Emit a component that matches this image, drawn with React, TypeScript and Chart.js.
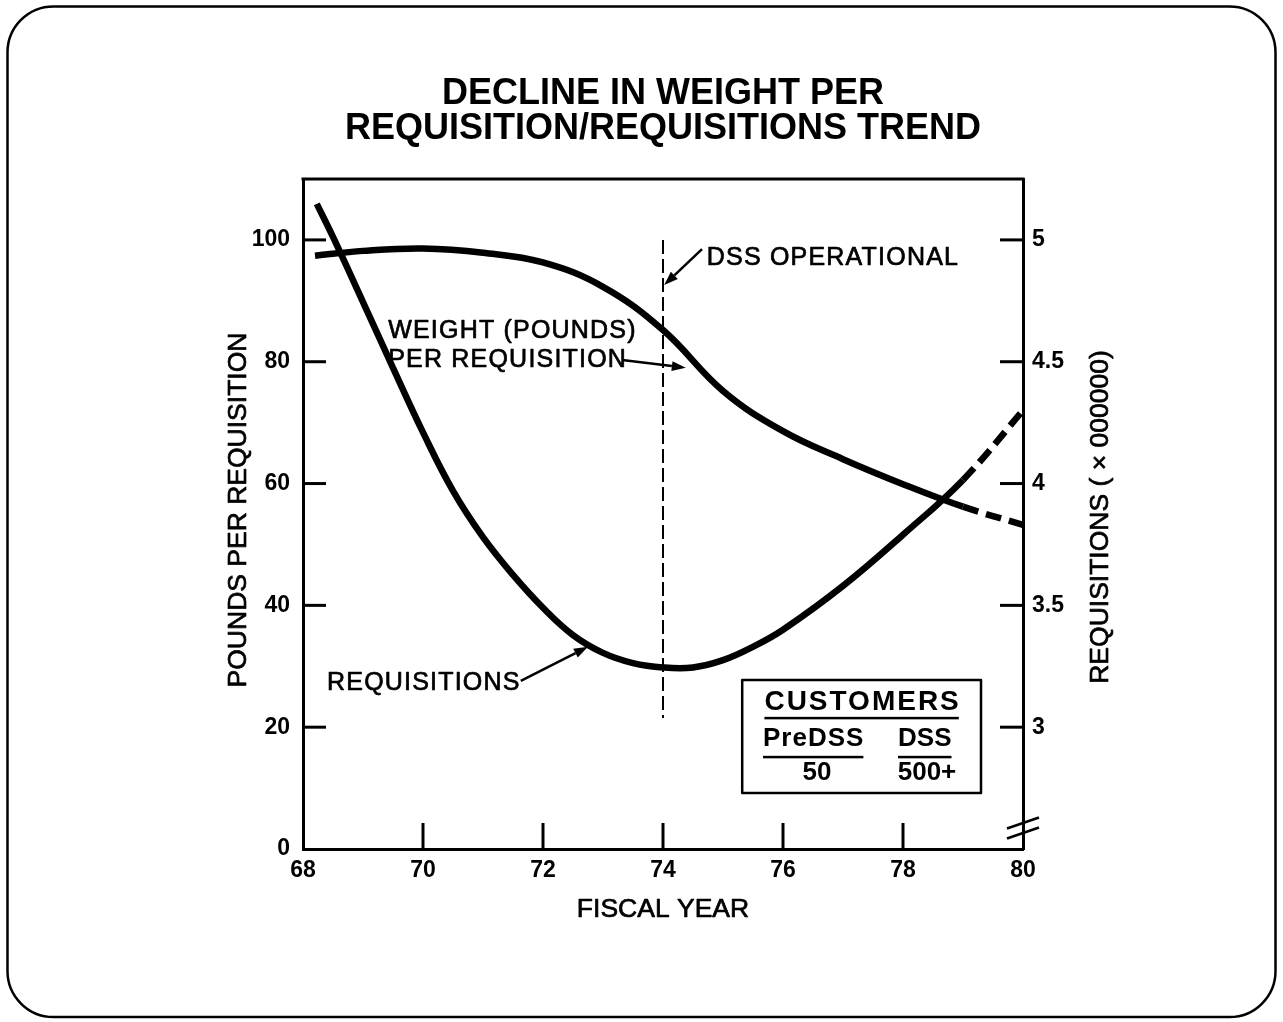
import React, { useEffect, useRef } from 'react';
import { Chart, registerables } from 'chart.js';

Chart.register(...registerables);

// ---- data ----
const weightYears = [68.2, 69, 70, 71, 72, 73, 74, 75, 76, 77, 78, 79, 80];
const weightPounds = [97.4, 98.2, 98.6, 97.9, 96.3, 92.3, 85.2, 75.2, 68.6, 64.0, 59.9, 56.2, 53.2];

const reqYears = [68.23, 68.5, 69, 69.5, 70, 70.5, 71, 71.5, 72, 72.5, 73, 73.5, 74, 74.5, 75, 75.5, 76, 77, 78, 79, 80];
const reqMillions = [5.148, 5.012, 4.745, 4.475, 4.21, 3.97, 3.78, 3.625, 3.49, 3.378, 3.305, 3.263, 3.245, 3.245, 3.275, 3.33, 3.4, 3.58, 3.79, 4.015, 4.3];

const xTickValues = [68, 70, 72, 74, 76, 78, 80];
const leftTickValues = [0, 20, 40, 60, 80, 100];
const rightTickValues = [3, 3.5, 4, 4.5, 5];

const projectionFrom = 79; // dashed (projected) part of both curves
const dssYear = 74;

const titleLines = ['DECLINE IN WEIGHT PER', 'REQUISITION/REQUISITIONS TREND'];
const xTitle = 'FISCAL YEAR';
const leftTitle = 'POUNDS PER REQUISITION';
const rightTitle = 'REQUISITIONS ( × 000000)';
const customersHeader = 'CUSTOMERS';
const customersCols = ['PreDSS', 'DSS'];
const customersVals = ['50', '500+'];

const FONT = '"Liberation Sans", Arial, Helvetica, sans-serif';

function drawText(
  ctx: CanvasRenderingContext2D,
  s: string,
  x: number,
  y: number,
  font: string,
  align: CanvasTextAlign = 'left',
  spacing = 0,
  stroke = 0,
  baseline: CanvasTextBaseline = 'alphabetic'
) {
  ctx.font = font;
  ctx.textAlign = align;
  ctx.textBaseline = baseline;
  (ctx as any).letterSpacing = spacing + 'px';
  ctx.fillText(s, x, y);
  if (stroke > 0) {
    ctx.lineWidth = stroke;
    ctx.lineJoin = 'round';
    ctx.strokeText(s, x, y);
  }
  const w = ctx.measureText(s).width;
  (ctx as any).letterSpacing = '0px';
  return w;
}

function drawArrow(ctx: CanvasRenderingContext2D, x1: number, y1: number, x2: number, y2: number) {
  const ang = Math.atan2(y2 - y1, x2 - x1);
  const hl = 14, hw = 5;
  const bx = x2 - hl * Math.cos(ang), by = y2 - hl * Math.sin(ang);
  ctx.lineWidth = 2.5;
  ctx.setLineDash([]);
  ctx.beginPath();
  ctx.moveTo(x1, y1);
  ctx.lineTo(bx, by);
  ctx.stroke();
  ctx.beginPath();
  ctx.moveTo(x2, y2);
  ctx.lineTo(bx + hw * Math.sin(ang), by - hw * Math.cos(ang));
  ctx.lineTo(bx - hw * Math.sin(ang), by + hw * Math.cos(ang));
  ctx.closePath();
  ctx.fill();
}

const decorPlugin = {
  id: 'decor',
  beforeDraw(chart: any) {
    const ctx = chart.ctx as CanvasRenderingContext2D;
    ctx.save();
    ctx.fillStyle = '#fff';
    ctx.fillRect(0, 0, chart.width, chart.height);
    ctx.restore();
  },
  afterDraw(chart: any) {
    const ctx = chart.ctx as CanvasRenderingContext2D;
    const ca = chart.chartArea;
    const xs = chart.scales.x, yl = chart.scales.y, yr = chart.scales.y2;
    const X = (v: number) => xs.getPixelForValue(v);
    const Y = (v: number) => yl.getPixelForValue(v);
    ctx.save();
    ctx.strokeStyle = '#000';
    ctx.fillStyle = '#000';
    ctx.lineCap = 'butt';

    // outer rounded frame
    ctx.lineWidth = 2.5;
    ctx.beginPath();
    (ctx as any).roundRect(7.5, 6.5, chart.width - 15, chart.height - 11.5, 46);
    ctx.stroke();

    // top border of plot box
    ctx.lineWidth = 3;
    ctx.beginPath();
    ctx.moveTo(ca.left - 1.5, ca.top);
    ctx.lineTo(ca.right + 1.5, ca.top);
    ctx.stroke();

    // inward tick marks
    xs.ticks.forEach((t: any) => {
      if (t.value <= xs.min || t.value >= xs.max) return;
      const px = X(t.value);
      ctx.beginPath();
      ctx.moveTo(px, ca.bottom);
      ctx.lineTo(px, ca.bottom - 26);
      ctx.stroke();
    });
    yl.ticks.forEach((t: any) => {
      if (t.value <= yl.min) return;
      const py = Y(t.value);
      ctx.beginPath();
      ctx.moveTo(ca.left, py);
      ctx.lineTo(ca.left + 23, py);
      ctx.stroke();
    });
    yr.ticks.forEach((t: any) => {
      const py = yr.getPixelForValue(t.value);
      ctx.beginPath();
      ctx.moveTo(ca.right, py);
      ctx.lineTo(ca.right - 23, py);
      ctx.stroke();
    });

    // axis break mark on right axis
    ctx.lineWidth = 2.5;
    const yc = ca.bottom - 21;
    [-5, 5].forEach((off) => {
      ctx.beginPath();
      ctx.moveTo(ca.right - 16, yc + off + 5.5);
      ctx.lineTo(ca.right + 16, yc + off - 5.5);
      ctx.stroke();
    });

    // axis titles
    const axFont = `26.5px ${FONT}`;
    drawText(ctx, xTitle, (ca.left + ca.right) / 2, ca.bottom + 68, axFont, 'center', 0, 0.7);
    ctx.save();
    ctx.translate(ca.left - 64, (ca.top + ca.bottom) / 2 - 4);
    ctx.rotate(-Math.PI / 2);
    drawText(ctx, leftTitle, 0, 0, axFont, 'center', 0, 0.7, 'middle');
    ctx.restore();
    ctx.save();
    ctx.translate(ca.right + 78, (ca.top + ca.bottom) / 2 + 3);
    ctx.rotate(-Math.PI / 2);
    drawText(ctx, rightTitle, 0, 0, axFont, 'center', 0, 0.7, 'middle');
    ctx.restore();

    // DSS operational dashed line
    ctx.lineWidth = 2;
    ctx.setLineDash([14, 5]);
    ctx.beginPath();
    ctx.moveTo(X(dssYear), Y(100));
    ctx.lineTo(X(dssYear), Y(21.5));
    ctx.stroke();
    ctx.setLineDash([]);

    const annFont = `25px ${FONT}`;
    drawText(ctx, 'DSS OPERATIONAL', X(74.73), Y(95.9), annFont, 'left', 1.2, 0.7);
    drawArrow(ctx, X(74.65), Y(98.5), X(74.02), Y(92.6));

    drawText(ctx, 'WEIGHT (POUNDS)', X(69.42), Y(83.9), annFont, 'left', 1.2, 0.7);
    drawText(ctx, 'PER REQUISITION', X(69.42), Y(79.1), annFont, 'left', 1.2, 0.7);
    drawArrow(ctx, X(73.32), Y(80.3), X(74.38), Y(79.0));

    drawText(ctx, 'REQUISITIONS', X(68.4), Y(26.1), annFont, 'left', 1.2, 0.7);
    drawArrow(ctx, X(71.63), Y(27.6), X(72.75), Y(33.2));

    // customers box
    ctx.lineWidth = 2.5;
    const bl = X(75.32), br = X(79.3), bt = Y(27.75), bb = Y(9.2);
    ctx.strokeRect(bl, bt, br - bl, bb - bt);
    const hdrFont = `bold 28px ${FONT}`;
    const boxFont = `bold 26px ${FONT}`;
    const cx = X(77.31);
    ctx.font = hdrFont;
    (ctx as any).letterSpacing = '2px';
    const hw = ctx.measureText(customersHeader).width - 2;
    (ctx as any).letterSpacing = '0px';
    drawText(ctx, customersHeader, cx - hw / 2, Y(22.8), hdrFont, 'left', 2);
    ctx.fillRect(cx - hw / 2, Y(21.5) - 1.2, hw, 2.5);
    const w1 = drawText(ctx, customersCols[0], X(75.667), Y(16.9), boxFont, 'left', 1) - 1;
    ctx.fillRect(X(75.667), Y(15.1) - 1.2, w1, 2.5);
    const w2 = drawText(ctx, customersCols[1], X(77.917), Y(16.9), boxFont, 'left', 0);
    ctx.fillRect(X(77.917), Y(15.1) - 1.2, w2, 2.5);
    drawText(ctx, customersVals[0], X(76.567), Y(11.3), boxFont, 'center', 0);
    drawText(ctx, customersVals[1], X(78.4), Y(11.3), boxFont, 'center', 0);

    ctx.restore();
  },
};

export default function App() {
  const ref = useRef<HTMLCanvasElement | null>(null);
  useEffect(() => {
    document.body.style.margin = '0';
    if (!ref.current) return;
    const dash = (ctx: any) => (ctx.p0.parsed.x >= projectionFrom ? [16, 8] : undefined);
    const chart = new Chart(ref.current, {
      type: 'line',
      data: {
        datasets: [
          {
            label: 'Weight per requisition',
            data: weightYears.map((x, i) => ({ x, y: weightPounds[i] })),
            yAxisID: 'y',
            borderColor: '#000',
            borderWidth: 6.5,
            pointRadius: 0,
            tension: 0.4,
            borderCapStyle: 'butt',
            segment: { borderDash: dash },
          },
          {
            label: 'Requisitions',
            data: reqYears.map((x, i) => ({ x, y: reqMillions[i] })),
            yAxisID: 'y2',
            borderColor: '#000',
            borderWidth: 6.5,
            pointRadius: 0,
            tension: 0.4,
            borderCapStyle: 'butt',
            segment: { borderDash: dash },
          },
        ],
      },
      options: {
        responsive: false,
        animation: false,
        events: [],
        layout: { padding: { left: 205, right: 140, top: 77, bottom: 60 } },
        plugins: {
          legend: { display: false },
          tooltip: { enabled: false },
          title: {
            display: true,
            text: titleLines,
            fullSize: false,
            color: '#000',
            font: { family: FONT, size: 36, weight: 'bold', lineHeight: 35 / 36 },
            padding: { top: 0, bottom: 32 },
          },
        },
        scales: {
          x: {
            type: 'linear',
            min: 68,
            max: 80,
            afterBuildTicks: (s: any) => {
              s.ticks = xTickValues.map((v) => ({ value: v }));
            },
            afterFit: (s: any) => {
              s.height = 113;
            },
            grid: { display: false, drawTicks: false },
            border: { display: true, color: '#000', width: 3 },
            ticks: {
              color: '#000',
              font: { family: FONT, size: 23, weight: 'bold' },
              padding: 8,
              autoSkip: false,
              maxRotation: 0,
              callback: (v: any) => String(v),
            },
          },
          y: {
            type: 'linear',
            position: 'left',
            min: 0,
            max: 110,
            afterBuildTicks: (s: any) => {
              s.ticks = leftTickValues.map((v) => ({ value: v }));
            },
            afterFit: (s: any) => {
              s.width = 98;
            },
            grid: { display: false, drawTicks: false },
            border: { display: true, color: '#000', width: 3 },
            ticks: {
              color: '#000',
              font: { family: FONT, size: 23, weight: 'bold' },
              padding: 13,
              callback: (v: any) => String(v),
            },
          },
          y2: {
            type: 'linear',
            position: 'right',
            min: 2.5,
            max: 5.25,
            afterBuildTicks: (s: any) => {
              s.ticks = rightTickValues.map((v) => ({ value: v }));
            },
            afterFit: (s: any) => {
              s.width = 120;
            },
            grid: { display: false, drawTicks: false },
            border: { display: true, color: '#000', width: 3 },
            ticks: {
              color: '#000',
              font: { family: FONT, size: 23, weight: 'bold' },
              padding: 9,
              callback: (v: any) => String(v),
            },
          },
        },
      },
      plugins: [decorPlugin],
    } as any);
    return () => chart.destroy();
  }, []);
  return <canvas ref={ref} width={1283} height={1022} style={{ display: 'block' }} />;
}
